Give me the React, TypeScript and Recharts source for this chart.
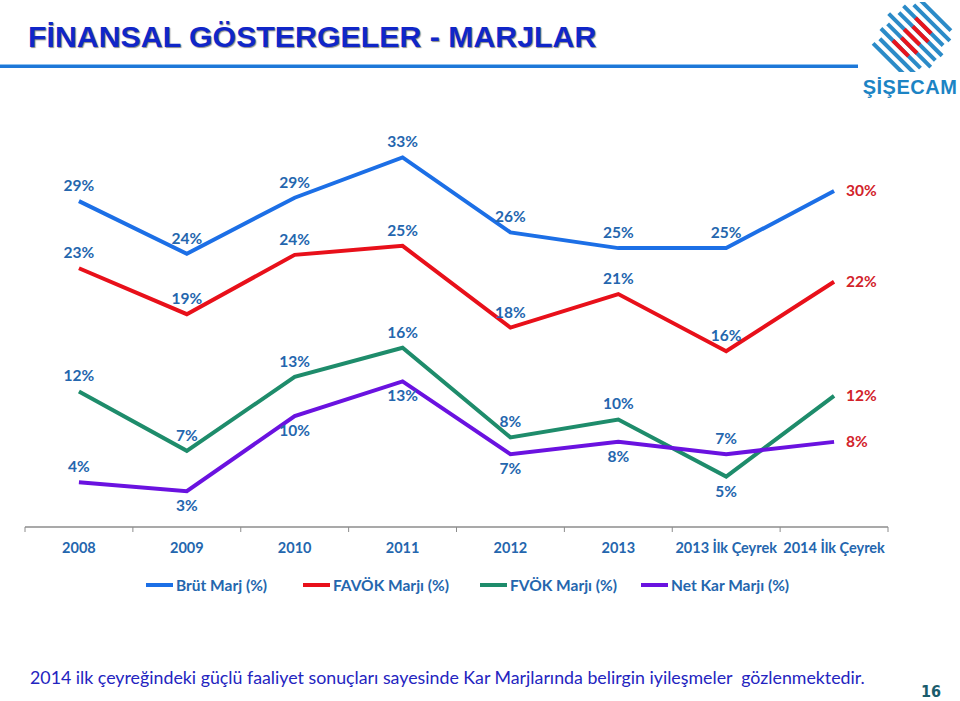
import React from "react";
import { LineChart, Line, XAxis, YAxis, LabelList } from "recharts";

const categories = ["2008", "2009", "2010", "2011", "2012", "2013", "2013 İlk Çeyrek", "2014 İlk Çeyrek"];
const brutMarj = [29.1, 24.4, 29.4, 33.0, 26.3, 24.9, 24.9, 30.0];
const favokMarji = [23.1, 19.0, 24.3, 25.1, 17.8, 20.8, 15.7, 21.9];
const fvokMarji = [12.1, 6.8, 13.4, 16.0, 8.0, 9.6, 4.5, 11.7];
const netKarMarji = [4.0, 3.2, 9.9, 13.0, 6.5, 7.6, 6.5, 7.6];

const seriesNames = ["Brüt Marj (%)", "FAVÖK Marjı (%)", "FVÖK Marjı (%)", "Net Kar Marjı (%)"];
const seriesKeys = ["brut", "favok", "fvok", "net"];
const seriesColors = ["#1C6FE6", "#E8101A", "#1E8C6B", "#6A12E0"];

// label placement per series
const placements: Record<string, string[]> = {
  brut: ["top", "top", "top", "top", "top", "top", "top", "right"],
  favok: ["top", "top", "top", "top", "top", "top", "top", "right"],
  fvok: ["top", "top", "top", "top", "top", "top", "bottom", "right"],
  net: ["top", "bottom", "bottom", "bottom", "bottom", "bottom", "top", "right"],
};

const data = categories.map((c, i) => ({
  name: c,
  brut: brutMarj[i],
  favok: favokMarji[i],
  fvok: fvokMarji[i],
  net: netKarMarji[i],
}));

const CHART_W = 960;
const CHART_H = 560;
const MARGIN = { top: 135, right: 72, left: 25, bottom: 3 };
const BAND = (CHART_W - MARGIN.left - MARGIN.right) / categories.length;

const labelFont = "Lato, 'Open Sans', sans-serif";
const legendLefts = [146, 303, 480, 641];

const makeLabel = (key: string) => (props: any) => {
  const { x, y, value, index } = props;
  const pos = placements[key][index];
  const txt = `${Math.round(value)}%`;
  if (pos === "right") {
    return (
      <text x={x + 12} y={y + 5} fill="#D2222A" fontSize={15.5} fontWeight={700} fontFamily={labelFont} textAnchor="start">
        {txt}
      </text>
    );
  }
  const ty = pos === "top" ? y - 10 : y + 20;
  return (
    <text x={x} y={ty} fill="#2466AE" fontSize={15.5} fontWeight={700} fontFamily={labelFont} textAnchor="middle">
      {txt}
    </text>
  );
};

const Tick = (props: any) => {
  const { x, y, payload, index } = props;
  const half = BAND / 2;
  return (
    <g>
      <line x1={x - half} y1={y - 8} x2={x - half} y2={y - 3} stroke="#8C8C8C" strokeWidth={1} />
      {index === categories.length - 1 && (
        <line x1={x + half} y1={y - 8} x2={x + half} y2={y - 3} stroke="#8C8C8C" strokeWidth={1} />
      )}
      <text x={x} y={y + 18} fill="#2466AE" fontSize={14.5} fontWeight={700} fontFamily={labelFont} textAnchor="middle">
        {payload.value}
      </text>
    </g>
  );
};

const Logo = () => {
  const stripes: JSX.Element[] = [];
  const cx = 912;
  const cy = 37;
  const ux = 0.7071;
  const uy = 0.7071;
  const px = 0.7071;
  const py = -0.7071;
  for (let k = -4; k <= 4; k++) {
    const d = k * 8;
    const L = 66 - Math.abs(k) * 5;
    const sx = cx + px * d + (k % 2 === 0 ? 0 : 4) * ux;
    const sy = cy + py * d + (k % 2 === 0 ? 0 : 4) * uy;
    const x1 = sx - ux * L / 2;
    const y1 = sy - uy * L / 2;
    const x2 = sx + ux * L / 2;
    const y2 = sy + uy * L / 2;
    stripes.push(<line key={"b" + k} x1={x1} y1={y1} x2={x2} y2={y2} stroke="#2B8BC8" strokeWidth={4} />);
    if (Math.abs(k) <= 2) {
      const r = 11;
      stripes.push(
        <line key={"r" + k} x1={sx - ux * r} y1={sy - uy * r} x2={sx + ux * r} y2={sy + uy * r} stroke="#E8141C" strokeWidth={4} />
      );
    }
  }
  return (
    <svg width={960} height={100} style={{ position: "absolute", left: 0, top: 0 }}>
      <defs>
        <clipPath id="lc">
          <rect x={862} y={2} width={98} height={70} />
        </clipPath>
      </defs>
      <g clipPath="url(#lc)">{stripes}</g>
      <text x={910} y={94} textAnchor="middle" fill="#1C84C4" fontSize={20} fontWeight={700} fontFamily="'Liberation Sans', Arial, sans-serif" letterSpacing={0.5}>
        ŞİŞECAM
      </text>
    </svg>
  );
};

export default function App() {
  return (
    <div style={{ position: "absolute", left: 0, top: 0, width: 960, height: 701, background: "#fff", overflow: "hidden" }}>
      <div
        style={{
          position: "absolute",
          left: 28,
          top: 20,
          fontFamily: "'Liberation Sans', Arial, sans-serif",
          fontWeight: 700,
          fontSize: 30.3,
          lineHeight: "34px",
          color: "#1026C8",
          textShadow: "1px 1px 1px #888",
          whiteSpace: "nowrap",
        }}
      >
        FİNANSAL GÖSTERGELER - MARJLAR
      </div>
      <div style={{ position: "absolute", left: 0, top: 64, width: 858, height: 3, background: "#1E78D8", borderTop: "1px solid #8CC0F0" }} />
      <Logo />
      <div style={{ position: "absolute", left: 0, top: 0 }}>
        <LineChart width={CHART_W} height={CHART_H} data={data} margin={MARGIN}>
          <XAxis
            dataKey="name"
            scale="band"
            interval={0}
            axisLine={{ stroke: "#8C8C8C", strokeWidth: 1.5 }}
            tickLine={false}
            tick={<Tick />}
            height={30}
          />
          <YAxis hide domain={[0, 35]} />
          {seriesKeys.map((k, i) => (
            <Line
              key={k}
              type="linear"
              dataKey={k}
              name={seriesNames[i]}
              stroke={seriesColors[i]}
              strokeWidth={4}
              dot={false}
              isAnimationActive={false}
            >
              <LabelList dataKey={k} content={makeLabel(k)} />
            </Line>
          ))}
        </LineChart>
      </div>
      {seriesNames.map((n, i) => (
        <div
          key={n}
          style={{
            position: "absolute",
            left: legendLefts[i],
            top: 575,
            display: "flex",
            alignItems: "center",
            fontFamily: labelFont,
            fontWeight: 700,
            fontSize: 15.5,
            lineHeight: "20px",
            color: "#2466AE",
            whiteSpace: "nowrap",
          }}
        >
          <div style={{ width: 27, height: 4, background: seriesColors[i], marginRight: 3 }} />
          <span>{n}</span>
        </div>
      ))}
      <div
        style={{
          position: "absolute",
          left: 30,
          top: 665,
          fontFamily: labelFont,
          fontSize: 17.8,
          lineHeight: "24px",
          color: "#2424C0",
          whiteSpace: "pre",
        }}
      >
        2014 ilk çeyreğindeki güçlü faaliyet sonuçları sayesinde Kar Marjlarında belirgin iyileşmeler  gözlenmektedir.
      </div>
      <div
        style={{
          position: "absolute",
          left: 921,
          top: 683,
          fontFamily: "'Liberation Sans Narrow', 'DejaVu Sans Condensed', sans-serif",
          fontWeight: 700,
          fontSize: 16,
          lineHeight: "17px",
          color: "#1A5C6C",
        }}
      >
        16
      </div>
    </div>
  );
}
